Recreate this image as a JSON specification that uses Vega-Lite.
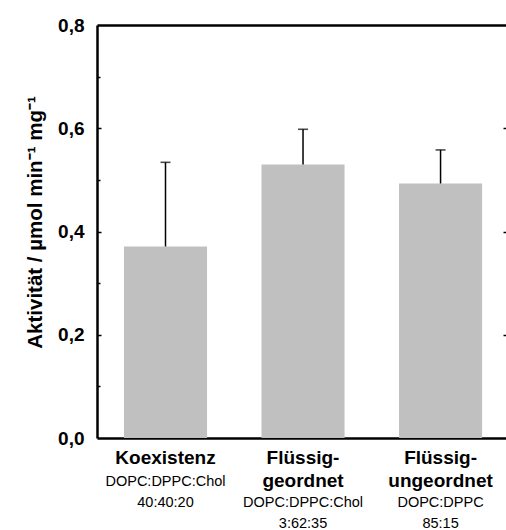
{
  "$schema": "https://vega.github.io/schema/vega-lite/v6.json",
  "autosize": "none",
  "padding": {"left": 97, "top": 25, "right": 0, "bottom": 92},
  "width": 409,
  "height": 413,
  "background": "white",
  "config": {"view": {"stroke": null}, "font": "Liberation Sans"},
  "data": {"values": [
    {"gruppe": "Koexistenz;DOPC:DPPC:Chol;40:40:20", "aktivitaet": 0.371, "oben": 0.534},
    {"gruppe": "Flüssig-geordnet;DOPC:DPPC:Chol;3:62:35", "aktivitaet": 0.530, "oben": 0.598},
    {"gruppe": "Flüssig-ungeordnet;DOPC:DPPC;85:15", "aktivitaet": 0.493, "oben": 0.558}
  ]},
  "resolve": {"axis": {"x": "independent", "y": "independent"}},
  "layer": [
    {
      "mark": {"type": "bar", "color": "#c0c0c0"},
      "encoding": {
        "x": {
          "field": "gruppe", "type": "nominal", "sort": null,
          "scale": {"paddingInner": 0.396, "paddingOuter": 0.185, "align": 0.53},
          "axis": {
            "orient": "bottom", "title": null, "ticks": false,
            "domainColor": "black", "domainWidth": 2.5,
            "labelAngle": 0,
            "labelFont": "Liberation Sans", "labelFontWeight": "bold", "labelFontSize": 19,
            "labelColor": "black", "labelLineHeight": 23, "labelPadding": 10,
            "labelBaseline": "top",
            "labelExpr": "indexof(datum.value, 'Flüssig-') == 0 ? ['Flüssig-', slice(split(datum.value, ';')[0], 8)] : split(datum.value, ';')[0]"
          }
        },
        "y": {
          "field": "aktivitaet", "type": "quantitative",
          "scale": {"domain": [0, 0.8], "nice": false, "zero": true},
          "axis": {
            "orient": "left", "values": [0, 0.2, 0.4, 0.6, 0.8], "ticks": false, "grid": false,
            "domainColor": "black", "domainWidth": 2.5,
            "labelExpr": "replace(format(datum.value, '.1f'), '.', ',')",
            "labelFont": "Liberation Sans", "labelFontWeight": "bold", "labelFontSize": 19,
            "labelColor": "black", "labelPadding": 13,
            "title": "Aktivität / µmol min⁻¹ mg⁻¹",
            "titleFont": "Liberation Sans", "titleFontWeight": "bold", "titleFontSize": 20.5,
            "titleColor": "black", "titlePadding": 12, "titleY": 197
          }
        }
      }
    },
    {
      "mark": {"type": "rule", "color": "black", "strokeWidth": 1.5},
      "encoding": {
        "x": {
          "field": "gruppe", "type": "nominal", "sort": null,
          "axis": {
            "orient": "bottom", "title": null, "ticks": false, "domain": false,
            "labelAngle": 0,
            "labelFont": "Liberation Sans", "labelFontSize": 14.5, "labelColor": "black",
            "labelLineHeight": 21, "labelBaseline": "top",
            "labelPadding": {"condition": {"test": "indexof(datum.value, 'Koexistenz') == 0", "value": 36.5}, "value": 57.5},
            "labelExpr": "slice(split(datum.value, ';'), 1)"
          }
        },
        "y": {
          "field": "aktivitaet", "type": "quantitative",
          "axis": {
            "orient": "left", "title": null, "labels": false, "domain": false, "grid": false,
            "values": [0.1, 0.2, 0.3, 0.4, 0.5, 0.6, 0.7],
            "tickColor": "black", "tickWidth": 1.5,
            "tickSize": {"condition": {"test": "round(datum.value * 10) % 2 == 0", "value": -4}, "value": -3}
          }
        },
        "y2": {"field": "oben"}
      }
    },
    {
      "mark": {"type": "tick", "color": "black", "thickness": 1.6, "size": 10},
      "encoding": {
        "x": {
          "field": "gruppe", "type": "nominal", "sort": null,
          "axis": {
            "orient": "top", "title": null, "ticks": false, "labels": false,
            "domainColor": "black", "domainWidth": 2.5
          }
        },
        "y": {
          "field": "oben", "type": "quantitative",
          "axis": {
            "orient": "right", "title": null, "labels": false, "domain": false, "grid": false,
            "values": [0.2, 0.4, 0.6],
            "tickColor": "black", "tickWidth": 1.5, "tickSize": -3
          }
        }
      }
    }
  ]
}
